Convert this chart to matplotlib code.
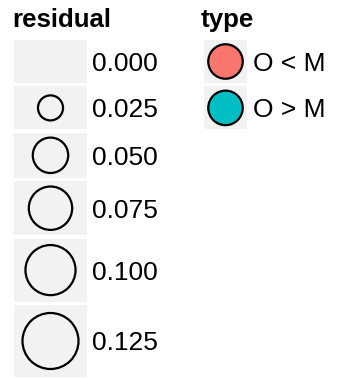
import numpy as np
import matplotlib
matplotlib.use("Agg")
import matplotlib.pyplot as plt
from matplotlib.patches import Rectangle, Circle

# ---- data ----
size_title = "residual"
size_breaks = [0.000, 0.025, 0.050, 0.075, 0.100, 0.125]
size_labels = ["0.000", "0.025", "0.050", "0.075", "0.100", "0.125"]
fill_title = "type"
fill_labels = ["O < M", "O > M"]
fill_colors = ["#F8766D", "#00BFC4"]

# ---- layout (pixels) ----
W, H = 350, 378
KEY_BG = "#F2F2F2"
FONT = ["Liberation Sans", "DejaVu Sans"]
title_fs = 18.6
label_fs = 19.0
max_diam = 56.0          # centre-line diameter for the largest break
stroke_lw = 1.6
key_top = 40.0
key_gap = 3.4
size_key_x0, size_key_w = 14.0, 73.0
size_key_heights = [43, 43, 45, 54, 63, 72]
fill_key_x0, fill_key_w = 204.0, 43.0
fill_key_h = 43.0
fill_circle_diam = 34.5

fig = plt.figure(figsize=(W / 100, H / 100), dpi=100)
ax = fig.add_axes([0, 0, 1, 1])
ax.set_xlim(0, W)
ax.set_ylim(H, 0)
ax.axis("off")

def size_scale(v):
    # scale_size_area: area proportional to value
    return max_diam * np.sqrt(v / max(size_breaks))

digit_half = 0.716 * label_fs * 100 / 72 / 2

# residual legend
ax.text(12, 27, size_title, fontsize=title_fs, fontweight="bold",
        family=FONT, ha="left", va="baseline")
y = key_top
for v, lab, h in zip(size_breaks, size_labels, size_key_heights):
    ax.add_patch(Rectangle((size_key_x0, y), size_key_w, h, facecolor=KEY_BG,
                           edgecolor="none"))
    cy = y + h / 2
    cx = size_key_x0 + size_key_w / 2
    d = size_scale(v)
    if d > 0:
        ax.add_patch(Circle((cx, cy), d / 2, facecolor="none",
                            edgecolor="black", linewidth=stroke_lw))
    ax.text(92, cy + digit_half, lab, fontsize=label_fs, family=FONT,
            ha="left", va="baseline")
    y += h + key_gap

# type legend
ax.text(201, 27, fill_title, fontsize=title_fs, fontweight="bold",
        family=FONT, ha="left", va="baseline")
y = key_top
for lab, col in zip(fill_labels, fill_colors):
    ax.add_patch(Rectangle((fill_key_x0, y), fill_key_w, fill_key_h,
                           facecolor=KEY_BG, edgecolor="none"))
    cy = y + fill_key_h / 2
    cx = fill_key_x0 + fill_key_w / 2
    ax.add_patch(Circle((cx, cy), fill_circle_diam / 2, facecolor=col,
                        edgecolor="black", linewidth=stroke_lw))
    ax.text(253, cy + digit_half, lab, fontsize=label_fs, family=FONT,
            ha="left", va="baseline")
    y += fill_key_h + key_gap

fig.savefig("out.png", dpi=100, facecolor="white")
